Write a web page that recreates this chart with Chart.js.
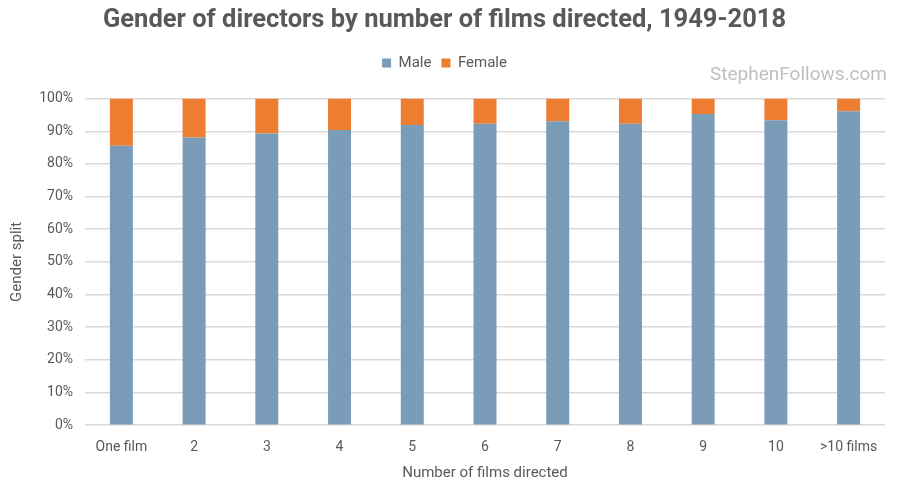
<!DOCTYPE html>
<html>
<head>
<meta charset="utf-8">
<script src="https://cdn.jsdelivr.net/npm/chart.js@4"></script>
<style>
  html, body { margin: 0; padding: 0; background: #ffffff; }
  #wrap { width: 900px; height: 488px; }
</style>
</head>
<body>
<div id="wrap"><canvas id="chart" width="900" height="488"></canvas></div>
<script>
const categories = ['One film', '2', '3', '4', '5', '6', '7', '8', '9', '10', '>10 films'];
const maleShare = [85.6, 88.1, 89.3, 90.4, 91.9, 92.3, 93.1, 92.3, 95.3, 93.4, 96.1];
const femaleShare = maleShare.map(v => +(100 - v).toFixed(1));

const textColor = '#595959';
const fontFamily = 'Roboto, "Liberation Sans", sans-serif';

// pushes the plot area down below the legend
const legendGap = {
    id: 'legendGap',
    beforeInit(chart) {
        const fit = chart.legend.fit;
        chart.legend.fit = function() {
            fit.bind(chart.legend)();
            this.height += 18;
        };
    }
};

const watermark = {
    id: 'watermark',
    afterDraw(chart) {
        const ctx = chart.ctx;
        ctx.save();
        ctx.fillStyle = '#bfbfbf';
        ctx.font = '19px ' + fontFamily;
        ctx.textAlign = 'right';
        ctx.textBaseline = 'middle';
        ctx.fillText('StephenFollows.com', 887, 75);
        ctx.restore();
    }
};

const ctx = document.getElementById('chart').getContext('2d');

new Chart(ctx, {
    type: 'bar',
    plugins: [legendGap, watermark],
    data: {
        labels: categories,
        datasets: [{
            label: 'Male',
            data: maleShare,
            backgroundColor: '#7a9cb9',
            borderWidth: 0
        }, {
            label: 'Female',
            data: femaleShare,
            backgroundColor: '#ed7d31',
            borderWidth: 0
        }]
    },
    options: {
        responsive: false,
        animation: false,
        layout: {
            padding: { left: 4, right: 15, top: 0, bottom: 2 }
        },
        datasets: {
            bar: {
                categoryPercentage: 0.8,
                barPercentage: 0.395
            }
        },
        plugins: {
            title: {
                display: true,
                text: 'Gender of directors by number of films directed, 1949-2018',
                color: textColor,
                font: { family: fontFamily, size: 25.5, weight: 'bold' },
                padding: { top: 5, bottom: 10 }
            },
            legend: {
                labels: {
                    color: textColor,
                    font: { family: fontFamily, size: 15 },
                    boxWidth: 9,
                    boxHeight: 9,
                    padding: 10
                }
            },
            tooltip: { enabled: false }
        },
        scales: {
            x: {
                stacked: true,
                grid: { display: false },
                border: { display: false },
                ticks: {
                    color: textColor,
                    font: { family: fontFamily, size: 14 },
                    maxRotation: 0,
                    padding: 6
                },
                title: {
                    display: true,
                    text: 'Number of films directed',
                    color: textColor,
                    font: { family: fontFamily, size: 15 },
                    padding: { top: 2 }
                }
            },
            y: {
                stacked: true,
                min: 0,
                max: 100,
                afterFit(scale) {
                    scale.width = 81;
                },
                grid: {
                    color: '#d9d9d9',
                    lineWidth: 1.5,
                    drawTicks: false
                },
                border: { display: false },
                ticks: {
                    stepSize: 10,
                    color: textColor,
                    font: { family: fontFamily, size: 14 },
                    padding: 12,
                    callback: function(value) {
                        return value + '%';
                    }
                },
                title: {
                    display: true,
                    text: 'Gender split',
                    color: textColor,
                    font: { family: fontFamily, size: 15 },
                    padding: { bottom: 2 }
                }
            }
        }
    }
});
</script>
</body>
</html>
